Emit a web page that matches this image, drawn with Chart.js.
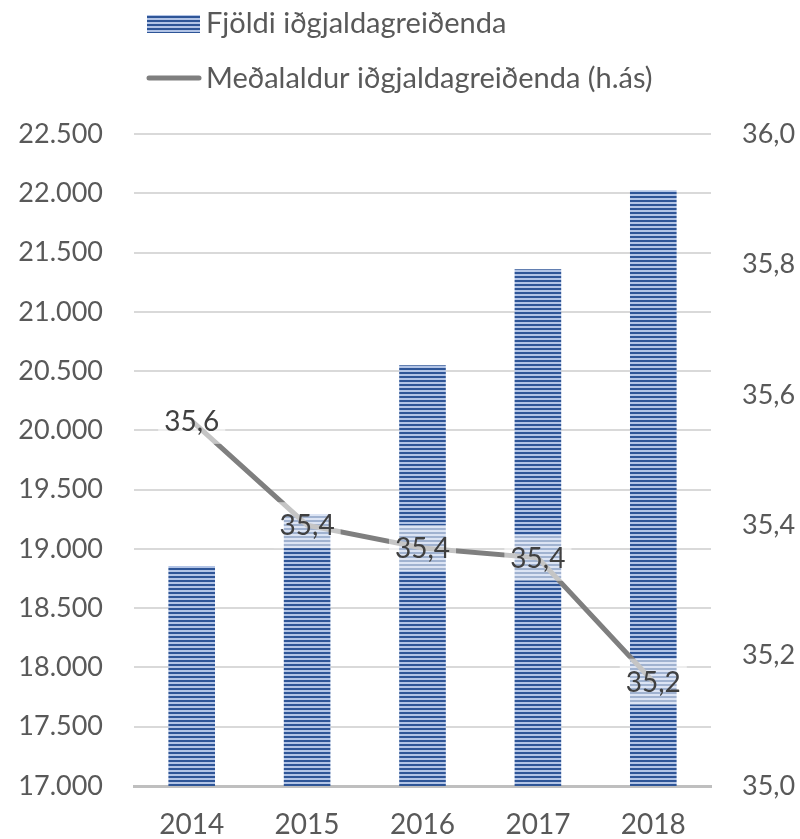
<!DOCTYPE html>
<html>
<head>
<meta charset="utf-8">
<script src="https://cdn.jsdelivr.net/npm/chart.js@4"></script>
<style>
  html, body { margin: 0; padding: 0; background: #fff; }
  #wrap { width: 800px; height: 839px; }
</style>
</head>
<body>
<div id="wrap"><canvas id="myChart" width="800" height="839"></canvas></div>
<script>
const years = ['2014', '2015', '2016', '2017', '2018']
const payers = [18855, 19295, 20550, 21360, 22025]
const avgAge = [35.56, 35.40, 35.365, 35.35, 35.16]
const barLabel = 'Fjöldi iðgjaldagreiðenda'
const lineLabel = 'Meðalaldur iðgjaldagreiðenda (h.ás)'

const FONT = 'Lato, "Open Sans", sans-serif'

// striped fill like the original bars
function makeStripes() {
    const c = document.createElement('canvas')
    c.width = 4
    c.height = 4
    const g = c.getContext('2d')
    g.fillStyle = '#B2C4E6'
    g.fillRect(0, 0, 4, 4)
    g.fillStyle = '#2E5597'
    g.fillRect(0, 0, 4, 2)
    return g.createPattern(c, 'repeat')
}
const stripes = makeStripes()

const fmtLeft = v => String(v).replace(/\B(?=(\d{3})+(?!\d))/g, '.')
const fmtRight = v => Number(v).toFixed(1).replace('.', ',')

const labelPlugin = {
    id: 'lineLabels',
    afterDatasetsDraw(chart) {
        const ctx = chart.ctx
        const meta = chart.getDatasetMeta(0)
        const ds = chart.data.datasets[0]
        ctx.save()
        ctx.font = '28px ' + FONT
        ctx.textAlign = 'center'
        ctx.textBaseline = 'middle'
        meta.data.forEach((pt, i) => {
            const txt = fmtRight(ds.data[i])
            const w = ctx.measureText(txt).width + 12
            const h = 46
            ctx.fillStyle = 'rgba(255,255,255,0.55)'
            ctx.fillRect(pt.x - w / 2, pt.y - h / 2, w, h)
            ctx.fillStyle = '#404040'
            ctx.fillText(txt, pt.x, pt.y + 1)
        })
        ctx.restore()
    }
}

const legendPlugin = {
    id: 'stackLegend',
    afterDraw(chart) {
        const ctx = chart.ctx
        ctx.save()
        ctx.font = '29px ' + FONT
        ctx.textBaseline = 'middle'
        ctx.fillStyle = stripes
        ctx.fillRect(147, 15, 53, 18)
        ctx.fillStyle = '#595959'
        ctx.fillText(chart.data.datasets[1].label, 206, 24)
        ctx.strokeStyle = '#7F7F7F'
        ctx.lineWidth = 5
        ctx.lineCap = 'round'
        ctx.beginPath()
        ctx.moveTo(149, 78)
        ctx.lineTo(199, 78)
        ctx.stroke()
        ctx.fillStyle = '#595959'
        ctx.fillText(chart.data.datasets[0].label, 206, 79)
        ctx.restore()
    }
}

const ctx = document.getElementById('myChart')
const chart = new Chart(ctx, {
    data: {
        labels: years,
        datasets: [{
            type: 'line',
            label: lineLabel,
            data: avgAge,
            yAxisID: 'y1',
            borderColor: '#7F7F7F',
            borderWidth: 5,
            pointRadius: 0,
            tension: 0,
            order: 0
        }, {
            type: 'bar',
            label: barLabel,
            data: payers,
            yAxisID: 'y',
            backgroundColor: stripes,
            borderWidth: 0,
            categoryPercentage: 1,
            barPercentage: 0.404,
            order: 1
        }]
    },
    plugins: [labelPlugin, legendPlugin],
    options: {
        responsive: false,
        animation: false,
        layout: { padding: { top: 134, left: 0, right: 0, bottom: 0 } },
        plugins: {
            legend: { display: false },
            tooltip: { enabled: false }
        },
        scales: {
            x: {
                grid: { display: false, drawTicks: false },
                border: { color: '#BFBFBF', width: 3 },
                ticks: { color: '#595959', font: { family: FONT, size: 28 }, padding: 22 },
                afterFit(s) { s.height = 53 }
            },
            y: {
                position: 'left',
                min: 17000,
                max: 22500,
                grid: { color: '#D9D9D9', lineWidth: 2, drawTicks: false },
                border: { display: false },
                ticks: {
                    stepSize: 500,
                    color: '#595959',
                    font: { family: FONT, size: 27 },
                    padding: 31,
                    callback: v => fmtLeft(v)
                },
                afterFit(s) { s.width = 134 }
            },
            y1: {
                position: 'right',
                min: 35,
                max: 36,
                grid: { display: false, drawTicks: false },
                border: { display: false },
                ticks: {
                    stepSize: 0.2,
                    color: '#595959',
                    font: { family: FONT, size: 27 },
                    padding: 31,
                    callback: v => fmtRight(v)
                },
                afterFit(s) { s.width = 89 }
            }
        }
    }
})
</script>
</body>
</html>
